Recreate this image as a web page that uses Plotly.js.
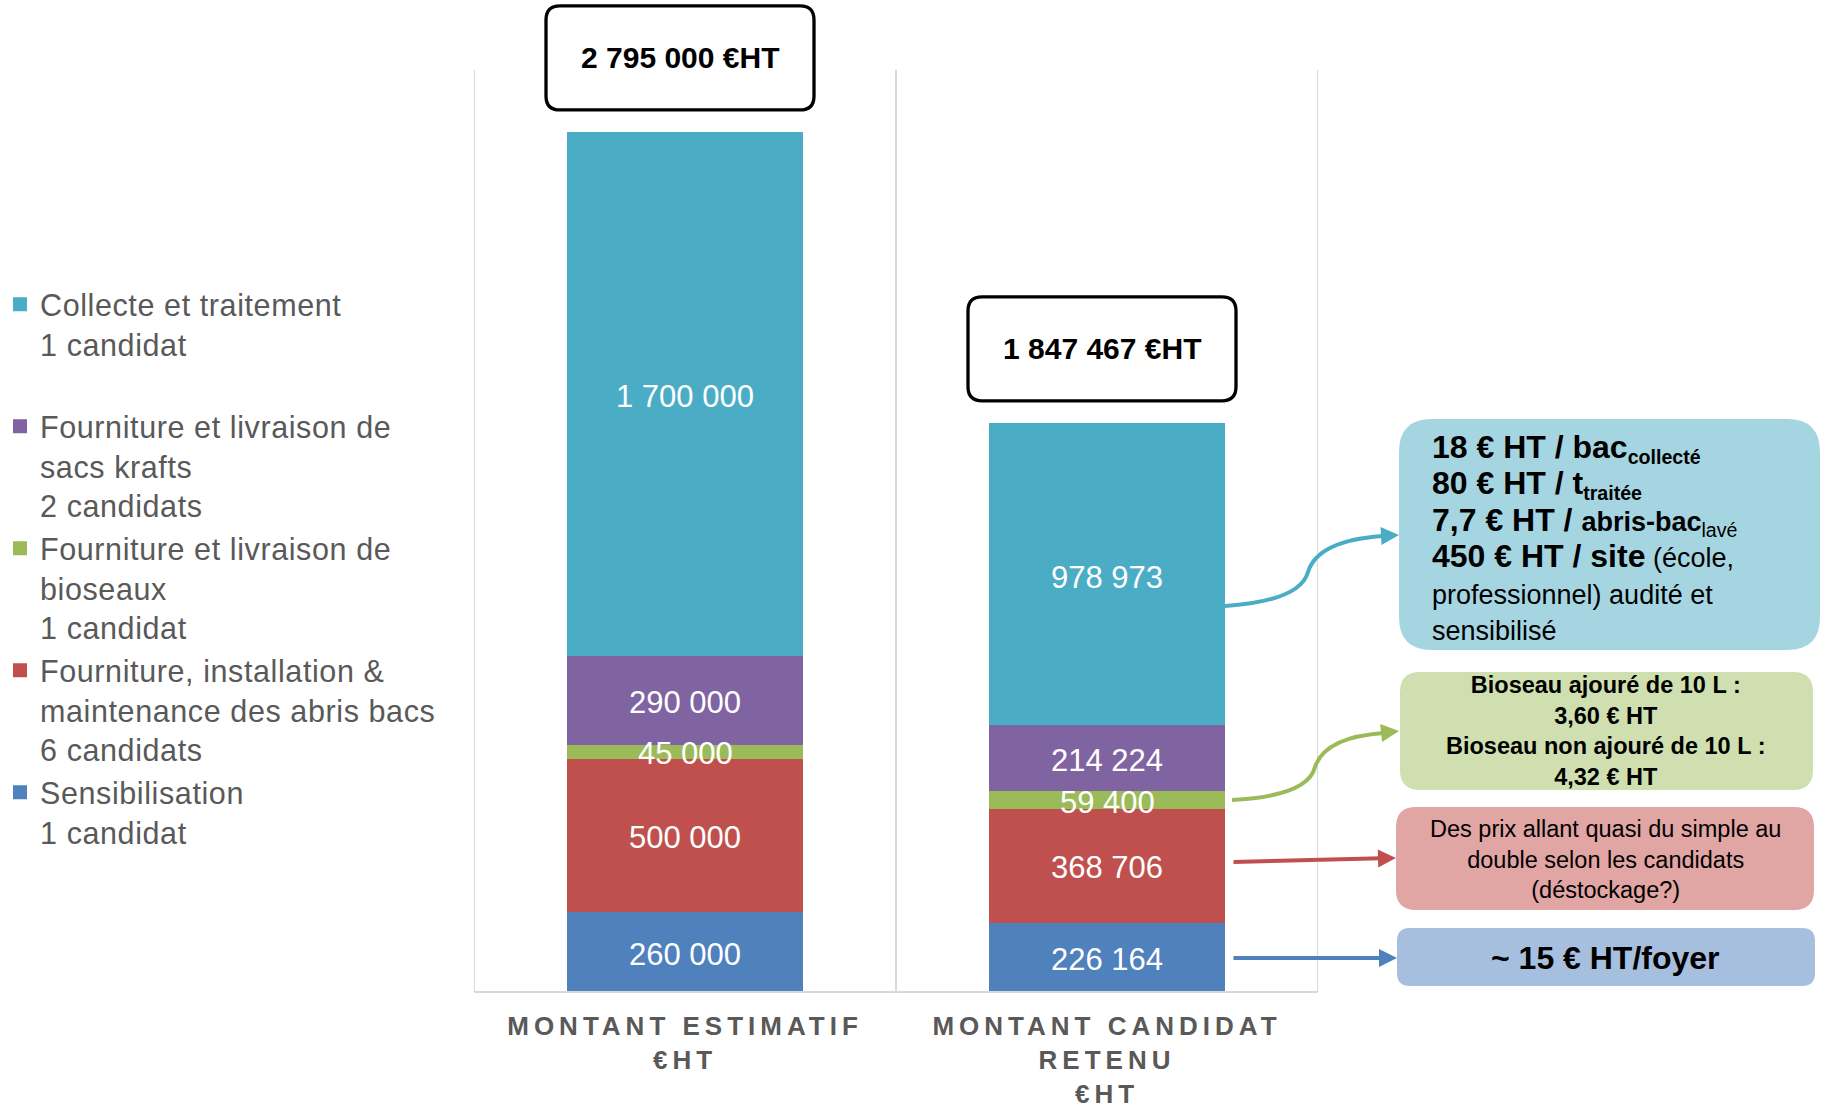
<!DOCTYPE html>
<html>
<head>
<meta charset="utf-8">
<script src="https://cdn.plot.ly/plotly-3.0.1.min.js"></script>
<style>
  html, body { margin: 0; padding: 0; background: #fff; }
  #chart { width: 1824px; height: 1108px; }
  .xtick text { letter-spacing: 5px; }
  .legendtext { letter-spacing: 0.6px; }
</style>
</head>
<body>
<div id="chart"></div>
<script>
// ---------- DATA ----------
const categories = ['MONTANT ESTIMATIF<br>€HT', 'MONTANT CANDIDAT<br>RETENU<br>€HT'];

// stacked from bottom to top
const sensibilisation = [260000, 226164];
const abrisBacs       = [500000, 368706];
const bioseaux        = [45000, 59400];
const sacsKrafts      = [290000, 214224];
const collecte        = [1700000, 978973];

const seriesNames = [
  'Sensibilisation<br>1 candidat',
  'Fourniture, installation &<br>maintenance des abris bacs<br>6 candidats',
  'Fourniture et livraison de<br>bioseaux<br>1 candidat',
  'Fourniture et livraison de<br>sacs krafts<br>2 candidats',
  'Collecte et traitement<br>1 candidat'
];
const seriesValues = [sensibilisation, abrisBacs, bioseaux, sacsKrafts, collecte];

const noteCollecte =
  '<span style="font-size:32px"><b>18 € HT / bac</b></span><b><sub>collecté</sub></b><br>' +
  '<span style="font-size:32px"><b>80 € HT / t</b></span><b><sub>traitée</sub></b><br>' +
  '<span style="font-size:32px"><b>7,7 € HT / </b></span><span style="font-size:27px"><b>abris-bac</b></span><sub>lavé</sub><br>' +
  '<span style="font-size:32px"><b>450 € HT / site</b></span><span style="font-size:27px"> (école,</span><br>' +
  '<span style="font-size:27px">professionnel) audité et</span><br>' +
  '<span style="font-size:27px">sensibilisé</span>';
const noteBioseaux = '<b>Bioseau ajouré de 10 L :<br>3,60 € HT<br>Bioseau non ajouré de 10 L :<br>4,32 € HT</b>';
const noteAbris = 'Des prix allant quasi du simple au<br>double selon les candidats<br>(déstockage?)';
const noteSensib = '<b>~ 15 € HT/foyer</b>';

// ---------- STYLE ----------
const colors = ['#4F81BD', '#C0504D', '#9BBB59', '#8064A2', '#4BACC6'];
const FONT = 'Liberation Sans, Arial, sans-serif';
const W = 1824, H = 1108;
const M = {l: 474, r: 506, t: 70, b: 117};
const Y_MAX = 3000000;
const PW = W - M.l - M.r, PH = H - M.t - M.b;
const X = px => +((px - M.l) / PW).toFixed(5);
const Y = py => +((H - M.b - py) / PH).toFixed(5);

function rr(x0, y0, x1, y1, r, fx, fy) {
  const P = (x, y) => fx(x) + ',' + fy(y);
  const sy = y1 > y0 ? 1 : -1;
  return 'M' + P(x0 + r, y0) + ' L' + P(x1 - r, y0) +
    ' Q' + P(x1, y0) + ' ' + P(x1, y0 + r * sy) +
    ' L' + P(x1, y1 - r * sy) + ' Q' + P(x1, y1) + ' ' + P(x1 - r, y1) +
    ' L' + P(x0 + r, y1) + ' Q' + P(x0, y1) + ' ' + P(x0, y1 - r * sy) +
    ' L' + P(x0, y0 + r * sy) + ' Q' + P(x0, y0) + ' ' + P(x0 + r, y0) + ' Z';
}
const id = v => v;
const fmt = n => String(Math.round(n)).replace(/\B(?=(\d{3})+(?!\d))/g, ' ');

// ---------- TRACES ----------
// items with fewer than three lines get a blank line so every legend entry has the same height
const padLines = s => s + '<br> '.repeat(Math.max(0, 3 - s.split('<br>').length));
const traces = seriesValues.map((vals, i) => ({
  type: 'bar',
  x: categories,
  y: vals,
  name: padLines(seriesNames[i]),
  marker: {color: colors[i], line: {color: colors[i], width: 2}},
  hoverinfo: 'skip'
}));

const totals = categories.map((c, k) => seriesValues.reduce((s, arr) => s + arr[k], 0));

// ---------- SHAPES ----------
const shapes = [];
[-0.5, 0.5, 1.5].forEach(xv => shapes.push({
  type: 'line', xref: 'x', yref: 'paper', x0: xv, x1: xv, y0: 0, y1: 1,
  line: {color: '#D9D9D9', width: 2}, layer: 'below'
}));
totals.forEach((t, k) => shapes.push({
  type: 'path', xref: 'paper', yref: 'paper', xsizemode: 'pixel', ysizemode: 'pixel',
  xanchor: (k + 0.5) / categories.length, yanchor: t / Y_MAX,
  path: rr(-139, 23, 129, 127, 14, id, id),
  line: {color: '#000000', width: 3.3}, fillcolor: '#FFFFFF'
}));
// note boxes (pixel positions -> paper)
const boxes = [
  {x0: 1399, y0: 419, x1: 1820, y1: 650, r: 33, c: '#A6D5E2'},
  {x0: 1400, y0: 672, x1: 1813, y1: 790, r: 20, c: '#CFDFAF'},
  {x0: 1396, y0: 807, x1: 1814, y1: 910, r: 20, c: '#E1A5A4'},
  {x0: 1397, y0: 928, x1: 1815, y1: 986, r: 13, c: '#A7BFDE'}
];
boxes.forEach(b => shapes.push({
  type: 'path', xref: 'paper', yref: 'paper',
  path: rr(b.x0, b.y0, b.x1, b.y1, b.r, X, Y),
  line: {width: 0}, fillcolor: b.c
}));
// curved connectors
const curve = (pts, col) => ({
  type: 'path', xref: 'paper', yref: 'paper',
  path: 'M' + X(pts[0]) + ',' + Y(pts[1]) +
        ' Q' + X(pts[2]) + ',' + Y(pts[3]) + ' ' + X(pts[4]) + ',' + Y(pts[5]) +
        ' Q' + X(pts[6]) + ',' + Y(pts[7]) + ' ' + X(pts[8]) + ',' + Y(pts[9]),
  line: {color: col, width: 4}, fillcolor: 'rgba(0,0,0,0)'
});
shapes.push(curve([1225, 606, 1300, 601, 1308, 572, 1318, 540, 1384, 536], colors[4]));
shapes.push(curve([1232, 800, 1308, 796, 1315, 767, 1325, 737, 1384, 733], colors[2]));

// ---------- ANNOTATIONS ----------
const annotations = [];
// value labels in the middle of each stacked segment (drawn above all bars)
categories.forEach((c, k) => {
  let base = 0;
  seriesValues.forEach(arr => {
    annotations.push({
      xref: 'x', yref: 'y', x: k, y: base + arr[k] / 2, yshift: -3,
      xanchor: 'center', yanchor: 'middle', showarrow: false,
      text: fmt(arr[k]),
      font: {family: FONT, size: 31, color: '#FFFFFF'}
    });
    base += arr[k];
  });
});
totals.forEach((t, k) => annotations.push({
  xref: 'x', yref: 'y', x: k, y: t, xshift: -5, yshift: 75,
  xanchor: 'center', yanchor: 'middle', showarrow: false,
  text: '<b>' + fmt(t) + ' €HT</b>',
  font: {family: FONT, size: 30, color: '#000000'}
}));
annotations.push({
  xref: 'paper', yref: 'paper', x: X(1430), y: Y(537), xanchor: 'left', yanchor: 'middle',
  align: 'left', showarrow: false, text: noteCollecte,
  font: {family: FONT, size: 28, color: '#000000'}
});
annotations.push({
  xref: 'paper', yref: 'paper', x: X(1606.5), y: Y(731), xanchor: 'center', yanchor: 'middle',
  align: 'center', showarrow: false, text: noteBioseaux,
  font: {family: FONT, size: 23.5, color: '#000000'}
});
annotations.push({
  xref: 'paper', yref: 'paper', x: X(1605), y: Y(860), xanchor: 'center', yanchor: 'middle',
  align: 'center', showarrow: false, text: noteAbris,
  font: {family: FONT, size: 23.5, color: '#000000'}
});
annotations.push({
  xref: 'paper', yref: 'paper', x: X(1606), y: Y(958), xanchor: 'center', yanchor: 'middle',
  align: 'center', showarrow: false, text: noteSensib,
  font: {family: FONT, size: 32, color: '#000000'}
});
// arrow heads / straight arrows
const arrow = (tx, ty, ax, ay, col) => ({
  xref: 'paper', yref: 'paper', x: X(tx), y: Y(ty), ax: ax, ay: ay,
  text: '', showarrow: true, arrowhead: 2, arrowsize: 0.9, arrowwidth: 4,
  arrowcolor: col, standoff: 0, startstandoff: 0
});
annotations.push(arrow(1399, 535, -18, 1, colors[4]));
annotations.push(arrow(1399, 731, -18, 2, colors[2]));
annotations.push(arrow(1396, 858, -164, 4, colors[1]));
annotations.push(arrow(1397, 958, -165, 0, colors[0]));

// ---------- LAYOUT ----------
const layout = {
  width: W, height: H, autosize: false,
  margin: M,
  paper_bgcolor: '#FFFFFF', plot_bgcolor: '#FFFFFF',
  barmode: 'stack', bargap: 0.445,
  separators: ', ',
  font: {family: FONT, color: '#595959'},
  showlegend: true,
  legend: {
    xref: 'container', yref: 'container', x: 0, y: 1 - 278 / H,
    xanchor: 'left', yanchor: 'top', traceorder: 'reversed', valign: 'top',
    maxheight: 1000,
    font: {family: FONT, size: 30.5, color: '#595959'},
    bgcolor: 'rgba(0,0,0,0)', borderwidth: 0
  },
  xaxis: {
    type: 'category', range: [-0.5, 1.5], showgrid: false, zeroline: false,
    showline: true, linecolor: '#D9D9D9', linewidth: 2, ticks: '',
    ticklabelstandoff: 11,
    tickfont: {family: FONT, size: 26, color: '#595959', weight: 'bold'},
    fixedrange: true
  },
  yaxis: {range: [0, Y_MAX], visible: false, showgrid: false, zeroline: false, fixedrange: true},
  shapes: shapes,
  annotations: annotations
};

Plotly.newPlot('chart', traces, layout, {displayModeBar: false, staticPlot: true});
</script>
</body>
</html>
